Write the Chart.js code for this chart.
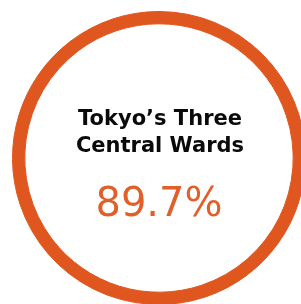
<!DOCTYPE html>
<html>
<head>
<meta charset="utf-8">
<script src="https://cdn.jsdelivr.net/npm/chart.js@4"></script>
<style>
  html, body { margin: 0; padding: 0; background: #fff; overflow: hidden; }
  #wrap { position: absolute; left: 12px; top: 11px; width: 294px; height: 294px; }
</style>
</head>
<body>
<div id="wrap"><canvas id="ring-chart"></canvas></div>
<script>
const labels = ["Tokyo’s Three Central Wards", "Other"];
const values = [89.7, 10.3];
const titleLines = ["Tokyo’s Three", "Central Wards"];
const valueLabel = "89.7%";

const orange = "#e0561f";

const centerText = {
  id: "centerText",
  afterDraw(chart) {
    const ctx = chart.ctx;
    const meta = chart.getDatasetMeta(0).data[0];
    const cx = meta.x, cy = meta.y;
    ctx.save();
    ctx.textAlign = "center";
    ctx.textBaseline = "alphabetic";
    ctx.fillStyle = "#0a0a0a";
    ctx.font = "bold 21px 'DejaVu Sans'";
    ctx.fillText(titleLines[0], cx + 1, cy - 33);
    ctx.fillText(titleLines[1], cx + 1, cy - 6);
    ctx.fillStyle = "#e0602c";
    ctx.font = "40px 'DejaVu Sans'";
    ctx.fillText(valueLabel, cx, cy + 58);
    ctx.restore();
  }
};

var config = {
  type: "doughnut",
  data: {
    labels: labels,
    datasets: [{
      data: values,
      backgroundColor: [orange, orange],
      borderColor: orange,
      borderWidth: 1,
    }],
  },
  options: {
    responsive: true,
    maintainAspectRatio: false,
    animation: false,
    cutout: "91.6%",
    layout: { padding: 0 },
    plugins: {
      legend: { display: false },
      tooltip: { enabled: false },
    },
  },
  plugins: [centerText],
};
var ctx = document.getElementById("ring-chart").getContext("2d");
window.ringChart = new Chart(ctx, config);
</script>
</body>
</html>
